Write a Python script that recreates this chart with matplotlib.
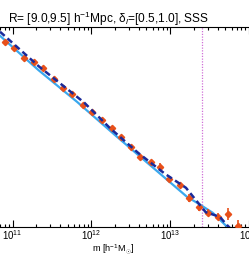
"""
Halo mass function in a bin of R and delta_l, SSS
"""
import numpy as np
import matplotlib.pyplot as plt

plt.rcParams['font.family'] = ['Liberation Sans', 'DejaVu Sans']
plt.rcParams['mathtext.fontset'] = 'custom'
plt.rcParams['mathtext.rm'] = 'Liberation Sans'
plt.rcParams['mathtext.it'] = 'Liberation Sans:italic'

# measured points (log10 m, log10 n, error in dex)
logm_pts = [10.90, 11.02, 11.15, 11.27, 11.39, 11.52, 11.64, 11.76, 11.89, 12.01,
            12.13, 12.26, 12.38, 12.50, 12.62, 12.75, 12.87, 12.99, 13.12, 13.24,
            13.36, 13.48, 13.61, 13.73, 13.86]
logn_pts = [-2.22, -2.31, -2.46, -2.52, -2.61, -2.77, -2.90, -2.99, -3.15, -3.26,
            -3.38, -3.49, -3.63, -3.78, -3.92, -4.00, -4.07, -4.25, -4.34, -4.53,
            -4.66, -4.75, -4.81, -4.77, -4.94]
err_pts = [0.02, 0.02, 0.02, 0.02, 0.02, 0.02, 0.02, 0.02, 0.02, 0.02,
           0.02, 0.02, 0.03, 0.03, 0.03, 0.03, 0.05, 0.04, 0.04, 0.06,
           0.06, 0.05, 0.05, 0.09, 0.08]

# model curves
logm_solid = [10.84, 11.33, 11.82, 12.31, 12.80, 13.21, 13.38, 13.54, 13.76]
logn_solid = [-2.13, -2.64, -3.11, -3.61, -4.10, -4.51, -4.63, -4.75, -5.00]
logm_dash = [10.84, 11.33, 11.91, 12.23, 12.59, 12.93, 13.20, 13.29, 13.45, 13.63, 13.72, 13.78]
logn_dash = [-2.07, -2.58, -3.12, -3.49, -3.86, -4.17, -4.38, -4.51, -4.74, -4.81, -4.93, -5.00]

m_cut = 2.54e13

fig = plt.figure(figsize=(2.49, 2.56), dpi=100)
ax = fig.add_axes([0.0, 1 - 227 / 256, 1.0, 200 / 256])

m_pts = 10 ** np.array(logm_pts)
n_pts = 10 ** np.array(logn_pts)
err = np.array(err_pts)
yerr = [n_pts - n_pts * 10 ** -err, n_pts * 10 ** err - n_pts]

ax.plot(10 ** np.array(logm_solid), 10 ** np.array(logn_solid), color='#3aa8ee', lw=1.6, zorder=2)
ax.errorbar(m_pts, n_pts, yerr=yerr, fmt='D', ms=3.2, color='#e8501a', mec='#e8501a',
            ecolor='#e8501a', elinewidth=1.2, capsize=0, zorder=3)
ax.plot(10 ** np.array(logm_dash), 10 ** np.array(logn_dash), color='#1a2a9a', lw=1.8,
        dashes=(2.5, 1.5), zorder=4)
ax.axvline(m_cut, color='#d070d8', lw=0.9, ls=(0, (1, 1.2)), zorder=1)

ax.set_xscale('log')
ax.set_yscale('log')
ax.set_xlim(10 ** 10.84, 10 ** 13.896)
ax.set_ylim(10 ** -4.96, 10 ** -2.0)

ax.spines['left'].set_visible(False)
ax.spines['right'].set_visible(False)
ax.tick_params(axis='y', which='both', left=False, right=False, labelleft=False)
ax.tick_params(axis='x', which='both', direction='in', top=True, bottom=True, labelsize=7, pad=1.2)
ax.tick_params(axis='x', which='major', length=5, width=0.8)
ax.tick_params(axis='x', which='minor', length=2.5, width=0.8)
ax.set_xticks([1e11, 1e12, 1e13, 1e14])
ax.set_xticklabels(['$10^{11}$', '$10^{12}$', '$10^{13}$', '$10^{14}$'])

fig.text(8 / 249, 1 - 23 / 256, r'R= [9.0,9.5] h$^{-1}$Mpc, δ$_l$=[0.5,1.0], SSS',
         fontsize=8.6, va='baseline', ha='left')
fig.text(113 / 249, 1 - 252 / 256, r'm [h$^{-1}$M$_{\odot}$]', fontsize=6.6,
         va='baseline', ha='center')

fig.savefig('out.png', dpi=100)
